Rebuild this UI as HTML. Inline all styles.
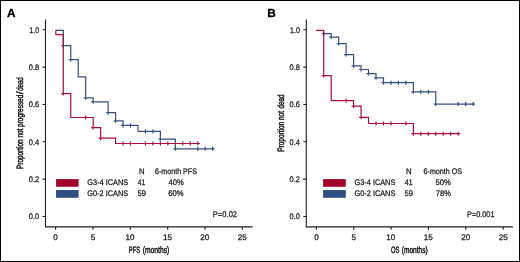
<!DOCTYPE html>
<html><head><meta charset="utf-8"><style>
html,body{margin:0;padding:0;background:#fff;}
body{width:520px;height:262px;overflow:hidden;}
svg{display:block;will-change:transform;}
text{font-family:"Liberation Sans",sans-serif;text-rendering:geometricPrecision;}
.t{fill:#1c1c1c;stroke:#1c1c1c;stroke-width:0.26px;}
.pl{font-weight:bold;fill:#000;stroke:#000;stroke-width:0.3px;}
.lb{fill:#1c1c1c;stroke:#1c1c1c;stroke-width:0.5px;}

</style></head><body>
<svg width="520" height="262" viewBox="0 0 520 262">
<rect x="0.5" y="0.5" width="519" height="261" fill="#fff" stroke="#000" stroke-width="1"/>
<path d="M45.50 19.5V227.40M45.00 226.90H252.60M42.50 29.80H45.50M42.50 67.14H45.50M42.50 104.48H45.50M42.50 141.82H45.50M42.50 179.16H45.50M42.50 216.50H45.50M55.60 226.90V229.8M92.95 226.90V229.8M130.30 226.90V229.8M167.65 226.90V229.8M205.00 226.90V229.8M242.35 226.90V229.8" stroke="#1e1e1e" stroke-width="1.1" fill="none"/>
<path d="M306.30 19.5V227.40M305.80 226.90H512.90M303.30 29.80H306.30M303.30 67.14H306.30M303.30 104.48H306.30M303.30 141.82H306.30M303.30 179.16H306.30M303.30 216.50H306.30M316.40 226.90V229.8M353.75 226.90V229.8M391.10 226.90V229.8M428.45 226.90V229.8M465.80 226.90V229.8M503.15 226.90V229.8" stroke="#1e1e1e" stroke-width="1.1" fill="none"/>
<path d="M55.82 30.30H63.29V45.70H70.76V59.60H78.23V76.90H85.70V97.80H93.17V101.80H108.11V112.70H115.58V120.80H123.05V125.40H137.99V131.40H160.40V139.20H175.34V148.80H214.69M61.29 45.70H65.29M63.29 43.70V47.70M68.76 59.60H72.76M70.76 57.60V61.60M83.70 97.80H87.70M85.70 95.80V99.80M91.17 101.80H95.17M93.17 99.80V103.80M106.11 112.70H110.11M108.11 110.70V114.70M113.58 120.80H117.58M115.58 118.80V122.80M121.05 125.40H125.05M123.05 123.40V127.40M128.52 125.40H132.52M130.52 123.40V127.40M143.46 131.40H147.46M145.46 129.40V133.40M150.93 131.40H154.93M152.93 129.40V133.40M158.40 139.20H162.40M160.40 137.20V141.20M173.34 148.80H177.34M175.34 146.80V150.80M195.75 148.80H199.75M197.75 146.80V150.80M203.22 148.80H207.22M205.22 146.80V150.80M210.69 148.80H214.69M212.69 146.80V150.80" stroke="#344f80" stroke-width="1.2" fill="none"/>
<path d="M55.82 30.30H55.82V34.60H63.29V93.60H70.76V117.50H93.17V127.60H100.64V138.10H115.58V143.50H199.75M61.29 93.60H65.29M63.29 91.60V95.60M83.70 117.50H87.70M85.70 115.50V119.50M91.17 127.60H95.17M93.17 125.60V129.60M98.64 138.10H102.64M100.64 136.10V140.10M121.05 143.50H125.05M123.05 141.50V145.50M128.52 143.50H132.52M130.52 141.50V145.50M143.46 143.50H147.46M145.46 141.50V145.50M150.93 143.50H154.93M152.93 141.50V145.50M158.40 143.50H162.40M160.40 141.50V145.50M165.87 143.50H169.87M167.87 141.50V145.50M180.81 143.50H184.81M182.81 141.50V145.50M188.28 143.50H192.28M190.28 141.50V145.50M195.75 143.50H199.75M197.75 141.50V145.50" stroke="#aa0d3b" stroke-width="1.2" fill="none"/>
<path d="M323.72 33.70H331.19V37.10H338.66V43.60H346.13V54.60H353.60V65.80H361.07V69.50H368.54V73.60H376.01V77.80H383.48V82.70H413.36V91.80H435.77V104.10H475.12M321.72 33.70H325.72M323.72 31.70V35.70M329.19 37.10H333.19M331.19 35.10V39.10M336.66 43.60H340.66M338.66 41.60V45.60M344.13 54.60H348.13M346.13 52.60V56.60M351.60 65.80H355.60M353.60 63.80V67.80M359.07 69.50H363.07M361.07 67.50V71.50M366.54 73.60H370.54M368.54 71.60V75.60M374.01 77.80H378.01M376.01 75.80V79.80M381.48 82.70H385.48M383.48 80.70V84.70M411.36 91.80H415.36M413.36 89.80V93.80M433.77 104.10H437.77M435.77 102.10V106.10M388.95 82.70H392.95M390.95 80.70V84.70M396.42 82.70H400.42M398.42 80.70V84.70M403.89 82.70H407.89M405.89 80.70V84.70M418.83 91.80H422.83M420.83 89.80V93.80M426.30 91.80H430.30M428.30 89.80V93.80M456.18 104.10H460.18M458.18 102.10V106.10M463.65 104.10H467.65M465.65 102.10V106.10M471.12 104.10H475.12M473.12 102.10V106.10" stroke="#344f80" stroke-width="1.2" fill="none"/>
<path d="M316.25 30.30H323.72V75.60H331.19V100.60H353.60V106.10H361.07V117.30H368.54V123.50H413.36V133.70H460.18M321.72 75.60H325.72M323.72 73.60V77.60M344.13 100.60H348.13M346.13 98.60V102.60M351.60 106.10H355.60M353.60 104.10V108.10M359.07 117.30H363.07M361.07 115.30V119.30M374.01 123.50H378.01M376.01 121.50V125.50M381.48 123.50H385.48M383.48 121.50V125.50M388.95 123.50H392.95M390.95 121.50V125.50M403.89 123.50H407.89M405.89 121.50V125.50M411.36 133.70H415.36M413.36 131.70V135.70M418.83 133.70H422.83M420.83 131.70V135.70M426.30 133.70H430.30M428.30 131.70V135.70M433.77 133.70H437.77M435.77 131.70V135.70M441.24 133.70H445.24M443.24 131.70V135.70M448.71 133.70H452.71M450.71 131.70V135.70M456.18 133.70H460.18M458.18 131.70V135.70" stroke="#aa0d3b" stroke-width="1.2" fill="none"/>
<rect x="56.30" y="179.3" width="21.9" height="7.1" fill="#a3002c" stroke="#980022" stroke-width="0.6"/>
<rect x="56.30" y="190.3" width="21.9" height="7.0" fill="#2f4e84" stroke="#1e3c74" stroke-width="0.6"/>
<rect x="323.40" y="179.3" width="21.9" height="7.1" fill="#a3002c" stroke="#980022" stroke-width="0.6"/>
<rect x="323.40" y="190.3" width="21.9" height="7.0" fill="#2f4e84" stroke="#1e3c74" stroke-width="0.6"/>
<text x="6.88" y="16.50" class="pl" font-size="11.8">A</text>
<text x="267.36" y="16.50" class="pl" font-size="11.8">B</text>
<text x="29.25" y="32.50" class="t" font-size="8.1" textLength="9.85" lengthAdjust="spacingAndGlyphs">1.0</text>
<text x="28.75" y="69.84" class="t" font-size="8.1" textLength="10.35" lengthAdjust="spacingAndGlyphs">0.8</text>
<text x="28.75" y="107.18" class="t" font-size="8.1" textLength="10.35" lengthAdjust="spacingAndGlyphs">0.6</text>
<text x="28.75" y="144.52" class="t" font-size="8.1" textLength="10.35" lengthAdjust="spacingAndGlyphs">0.4</text>
<text x="28.75" y="181.86" class="t" font-size="8.1" textLength="10.35" lengthAdjust="spacingAndGlyphs">0.2</text>
<text x="28.75" y="219.20" class="t" font-size="8.1" textLength="10.35" lengthAdjust="spacingAndGlyphs">0.0</text>
<text x="53.34" y="239.50" class="t" font-size="8.1">0</text>
<text x="90.69" y="239.50" class="t" font-size="8.1">5</text>
<text x="125.54" y="239.50" class="t" font-size="8.1">10</text>
<text x="163.02" y="239.50" class="t" font-size="8.1">15</text>
<text x="200.37" y="239.50" class="t" font-size="8.1">20</text>
<text x="237.84" y="239.50" class="t" font-size="8.1">25</text>
<text x="290.05" y="32.50" class="t" font-size="8.1" textLength="9.85" lengthAdjust="spacingAndGlyphs">1.0</text>
<text x="289.55" y="69.84" class="t" font-size="8.1" textLength="10.35" lengthAdjust="spacingAndGlyphs">0.8</text>
<text x="289.55" y="107.18" class="t" font-size="8.1" textLength="10.35" lengthAdjust="spacingAndGlyphs">0.6</text>
<text x="289.55" y="144.52" class="t" font-size="8.1" textLength="10.35" lengthAdjust="spacingAndGlyphs">0.4</text>
<text x="289.55" y="181.86" class="t" font-size="8.1" textLength="10.35" lengthAdjust="spacingAndGlyphs">0.2</text>
<text x="289.55" y="219.20" class="t" font-size="8.1" textLength="10.35" lengthAdjust="spacingAndGlyphs">0.0</text>
<text x="314.14" y="239.50" class="t" font-size="8.1">0</text>
<text x="351.49" y="239.50" class="t" font-size="8.1">5</text>
<text x="386.34" y="239.50" class="t" font-size="8.1">10</text>
<text x="423.82" y="239.50" class="t" font-size="8.1">15</text>
<text x="461.17" y="239.50" class="t" font-size="8.1">20</text>
<text x="498.64" y="239.50" class="t" font-size="8.1">25</text>
<text x="128.75" y="252.70" class="lb" font-size="9.2" textLength="11.35" lengthAdjust="spacingAndGlyphs">PFS</text>
<text x="142.75" y="252.70" class="lb" font-size="9.2" textLength="26.55" lengthAdjust="spacingAndGlyphs">(months)</text>
<text x="391.00" y="252.70" class="lb" font-size="9.2" textLength="8.40" lengthAdjust="spacingAndGlyphs">OS</text>
<text x="401.75" y="252.70" class="lb" font-size="9.2" textLength="25.95" lengthAdjust="spacingAndGlyphs">(months)</text>
<text transform="translate(22.90 169.05) rotate(-90)" class="lb" font-size="9.2" textLength="74.30" lengthAdjust="spacingAndGlyphs">Proportion not progressed</text>
<text transform="translate(22.90 94.25) rotate(-90)" class="lb" font-size="9.2" textLength="2.80" lengthAdjust="spacingAndGlyphs">/</text>
<text transform="translate(22.90 90.70) rotate(-90)" class="lb" font-size="9.2" textLength="13.25" lengthAdjust="spacingAndGlyphs">dead</text>
<text transform="translate(283.70 151.75) rotate(-90)" class="lb" font-size="9.2" textLength="40.75" lengthAdjust="spacingAndGlyphs">Proportion not</text>
<text transform="translate(283.70 108.50) rotate(-90)" class="lb" font-size="9.2" textLength="13.95" lengthAdjust="spacingAndGlyphs">dead</text>
<text x="139.00" y="174.00" class="t" font-size="8.1" textLength="5.55" lengthAdjust="spacingAndGlyphs">N</text>
<text x="155.05" y="174.00" class="t" font-size="8.1" textLength="41.85" lengthAdjust="spacingAndGlyphs">6-month PFS</text>
<text x="87.35" y="185.30" class="t" font-size="8.1" textLength="40.75" lengthAdjust="spacingAndGlyphs">G3-4 ICANS</text>
<text x="87.35" y="196.30" class="t" font-size="8.1" textLength="40.75" lengthAdjust="spacingAndGlyphs">G0-2 ICANS</text>
<text x="137.80" y="185.30" class="t" font-size="8.1" textLength="7.30" lengthAdjust="spacingAndGlyphs">41</text>
<text x="137.55" y="196.30" class="t" font-size="8.1" textLength="8.55" lengthAdjust="spacingAndGlyphs">59</text>
<text x="168.50" y="185.30" class="t" font-size="8.1" textLength="15.30" lengthAdjust="spacingAndGlyphs">40%</text>
<text x="168.25" y="196.30" class="t" font-size="8.1" textLength="15.35" lengthAdjust="spacingAndGlyphs">60%</text>
<text x="212.80" y="216.80" class="t" font-size="8.1" textLength="24.30" lengthAdjust="spacingAndGlyphs">P=0.02</text>
<text x="406.00" y="174.00" class="t" font-size="8.1" textLength="5.65" lengthAdjust="spacingAndGlyphs">N</text>
<text x="423.55" y="174.00" class="t" font-size="8.1" textLength="38.55" lengthAdjust="spacingAndGlyphs">6-month OS</text>
<text x="354.55" y="185.30" class="t" font-size="8.1" textLength="40.75" lengthAdjust="spacingAndGlyphs">G3-4 ICANS</text>
<text x="354.55" y="196.30" class="t" font-size="8.1" textLength="40.75" lengthAdjust="spacingAndGlyphs">G0-2 ICANS</text>
<text x="404.80" y="185.30" class="t" font-size="8.1" textLength="7.80" lengthAdjust="spacingAndGlyphs">41</text>
<text x="404.55" y="196.30" class="t" font-size="8.1" textLength="8.45" lengthAdjust="spacingAndGlyphs">59</text>
<text x="435.55" y="185.30" class="t" font-size="8.1" textLength="15.35" lengthAdjust="spacingAndGlyphs">50%</text>
<text x="435.75" y="196.30" class="t" font-size="8.1" textLength="15.15" lengthAdjust="spacingAndGlyphs">78%</text>
<text x="467.00" y="216.60" class="t" font-size="8.1" textLength="27.50" lengthAdjust="spacingAndGlyphs">P=0.001</text>
</svg>
</body></html>
